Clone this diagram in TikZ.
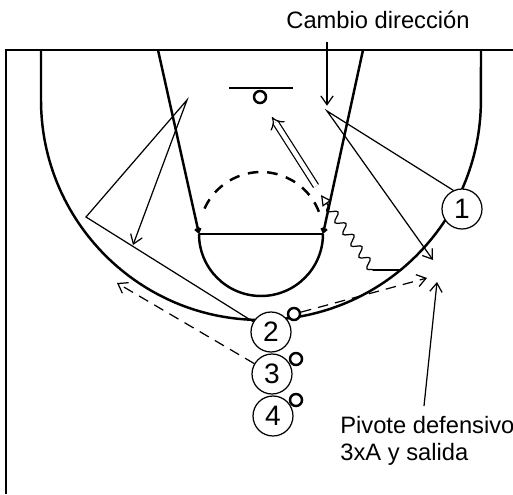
\documentclass[tikz,border=0pt]{standalone}
\usepackage{fontspec}
\setmainfont{Liberation Sans}
\usetikzlibrary{arrows.meta,decorations.pathmorphing}
\tikzset{
	courtln/.style={line width=1.4pt},
	runln/.style={line width=0.7pt},
	barb/.style={-{Straight Barb[length=5pt,width=7pt]}},
	passln/.style={runln, barb, dash pattern=on 6pt off 4pt},
	player/.style={circle, draw, fill=white, line width=0.7pt, minimum size=0.8cm, inner sep=0pt, font=\fontsize{16}{18}\selectfont},
	ball/.style={circle, draw, fill=white, line width=1.4pt, minimum size=0.24cm, inner sep=0pt},
	note/.style={font=\fontsize{13.5}{15.5}\selectfont, align=left, inner sep=0pt}
}
\begin{document}
\begin{tikzpicture}[x=0.02cm, y=-0.02cm]
	\useasboundingbox (0,0) rectangle (513,494);
	\draw[courtln] (5,50) -- (513,50);
	\draw[courtln] (6,50) -- (6,494);
	\draw[courtln] (41,50) -- (41,100) arc[start angle=180, end angle=360, radius=4.4cm] -- (481,50);
	\draw[courtln, -{Straight Barb[length=2pt,width=3pt]}] (158,50) -- (199,234);
	\draw[courtln, -{Straight Barb[length=2pt,width=3pt]}] (363,50) -- (323,234);
	\draw[courtln] (199,234) -- (323,234);
	\draw[courtln] (199,234) arc[start angle=180, end angle=360, radius=1.24cm];
	\draw[courtln, dash pattern=on 6pt off 5pt] (318.9,211.8) arc[start angle=21, end angle=159, radius=1.24cm];
	\draw[courtln] (229,88) -- (293,88);
	\draw[courtln] (260,97) circle[radius=0.12cm];

	\node[player] (p1) at (462,209) {1};
	\node[player] (p2) at (271,332) {2};
	\node[player] (p3) at (272,374) {3};
	\node[player] (p4) at (273,416) {4};
	\node[ball] (b2) at (294,314) {};
	\node[ball] (b3) at (296,359) {};
	\node[ball] (b4) at (296,400) {};
	\node[note] (lab1) at (378,20) {Cambio dirección};
	\node[note, anchor=west] (lab2) at (340,441) {Pivote defensivo\\3xA y salida};

	\coordinate (k1) at (327,111);
	\coordinate (k2) at (433,260);
	\coordinate (a1) at (327,42);
	\coordinate (a2) at (424,406);
	\coordinate (a3) at (437,282);
	\coordinate (c1) at (86,217);
	\coordinate (c2) at (187,100);
	\coordinate (c3) at (133,245);
	\coordinate (w2) at (427,278);
	\coordinate (w3) at (117,283);
	\coordinate (d1) at (316,186);
	\coordinate (d2) at (272,117);
	\coordinate (r1) at (402,270);
	\coordinate (r2) at (373,270);
	\coordinate (r3) at (321,195);

	\draw[runln, barb] (p1.115) -- (k1) -- (k2);
	\draw[runln, barb, shorten >=3pt] (a1) -- (k1);
	\draw[runln, barb] (a2) -- (a3);
	\draw[runln, barb] (p2.150) -- (c1) -- (c2) -- (c3);
	\draw[passln] (b2) -- (w2);
	\draw[passln] (p3) -- (w3);
	\draw[line width=0.7pt, double, double distance=2.6pt, -{Implies[length=6pt]}] (d1) -- (d2);
	\draw[runln] (r1) -- (r2);
	\draw[runln, decorate, decoration={snake, amplitude=2.5pt, segment length=8pt, post length=6pt}, -{Triangle[open, length=6pt, width=6pt]}] (r2) -- (r3);
\end{tikzpicture}
\end{document}
